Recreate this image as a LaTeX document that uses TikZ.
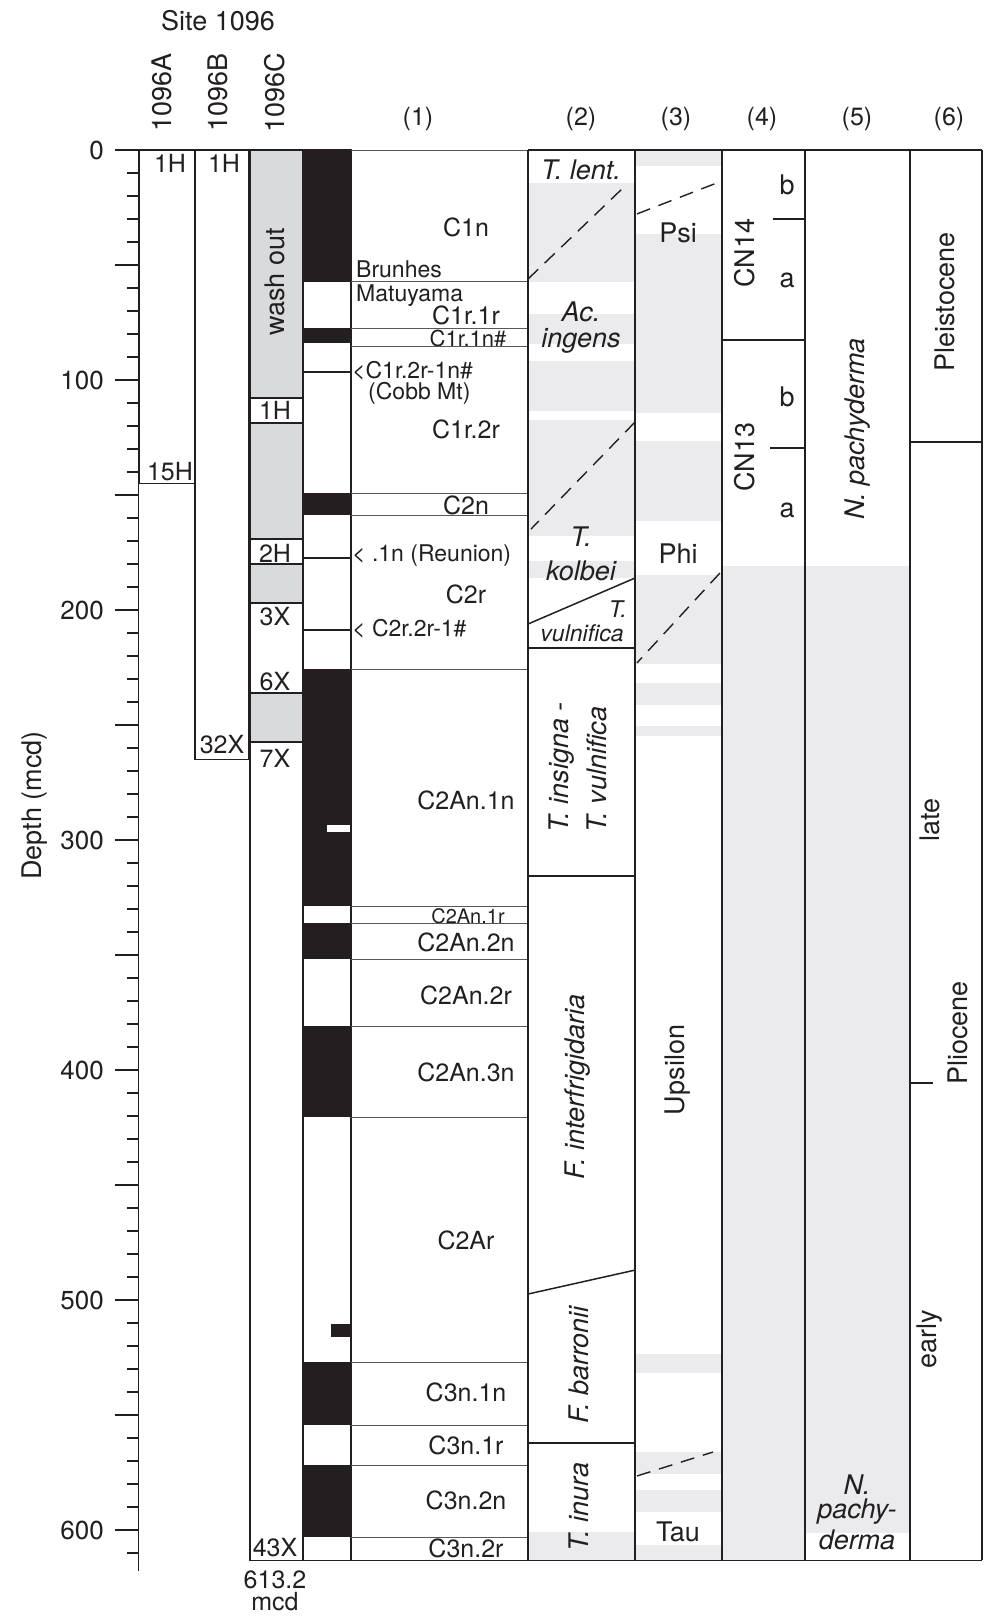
\documentclass[tikz,border=0pt]{standalone}
\usepackage{fontspec}
\setmainfont{TeX Gyre Heros}
\usetikzlibrary{positioning}
\definecolor{ink}{HTML}{231F20}
\definecolor{wash}{HTML}{D9DADB}
\definecolor{band}{HTML}{EBEBED}

\begin{document}
\begin{tikzpicture}[x=1pt,y=-2.3pt,font=\fontsize{25}{27}\selectfont,
  every node/.style={text=ink,inner sep=0pt},
  edge/.style={line width=1.5pt,draw=ink},
  thin/.style={line width=0.8pt,draw=ink!75},
  gap/.style={line width=1.4pt,draw=ink,dash pattern=on 14pt off 9pt},
  small/.style={font=\fontsize{20}{21}\selectfont},
  mid/.style={font=\fontsize{23}{25}\selectfont},
  large/.style={font=\fontsize{27}{29}\selectfont},
  taxon/.style={font=\fontsize{27}{29}\selectfont\itshape},
  minor/.style={font=\fontsize{23}{24}\selectfont\itshape}]
\useasboundingbox (0,-65.22) rectangle (984,639.13);

% depth axis
\draw[edge] (138.5,0) -- (138.5,618);
\foreach \d in {10,20,...,610} \draw[edge] (127,\d) -- (138.5,\d);
\foreach \d in {0,50,...,600} \draw[edge] (115,\d) -- (138.5,\d);
\foreach \d in {0,100,...,600} \node[anchor=east,font=\fontsize{26}{28}\selectfont] (tick\d) at (104,\d) {\d};
\node[rotate=90,large] (depth) at (35,285) {Depth (mcd)};

% holes
\node[large] (site) at (218,-56.1) {Site 1096};
\node[rotate=90,large] (holeA) at (162,-24.8) {1096A};
\node[rotate=90,large] (holeB) at (218,-24.8) {1096B};
\node[rotate=90,large] (holeC) at (275,-24.8) {1096C};
\foreach \a/\b in {0/107.8,118.7/169.1,180/197,236/257.4} \fill[wash] (250,\a) rectangle (303,\b);
\foreach \d in {107.8,118.7,169.1,180,197,236,257.4} \draw[edge] (250,\d) -- (303,\d);
\draw[edge] (139.5,0) rectangle (195,145);
\draw[edge] (195,0) rectangle (249,265);
\draw[edge] (250,0) rectangle (303,613.2);
\node (a1) at (170,5.7) {1H};
\node (a15) at (170,140) {15H};
\node (b1) at (224,5.7) {1H};
\node (b32) at (222,258.7) {32X};
\node[rotate=90,large] (wash) at (275,57.4) {wash out};
\node (c1) at (275,113.4) {1H};
\node (c2) at (275,175.2) {2H};
\node (c3) at (275,203) {3X};
\node (c6) at (275,231.3) {6X};
\node (c7) at (275,264.3) {7X};
\node (c43) at (275,607.8) {43X};
\node (cbase) at (275,621.7) {613.2};
\node[below=3pt of cbase] (cunit) {mcd};

% polarity
\foreach \a/\b in {0/57.3,77.2/83.9,149.1/158.7,225.7/328.7,336.1/351.7,380.9/420.4,527/554.3,571.7/603}
  \fill[ink] (303,\a) rectangle (351,\b);
\fill[white] (327,293.5) rectangle (350,296.5);
\fill[ink] (331,510.4) rectangle (351,516.1);
\draw[ink,line width=1.2pt] (303,96.5) -- (351,96.5) (303,177.4) -- (351,177.4);
\draw[ink,line width=2.2pt] (303,208.7) -- (351,208.7);
\draw[edge] (303,0) rectangle (351,613.2);

% (1) chrons
\node (h1) at (418,-13.5) {(1)};
\node (c1n) at (466,33.5) {C1n};
\node[anchor=west,mid] (brunhes) at (356,51.7) {Brunhes};
\node[anchor=west,mid] (matuyama) at (356,63.5) {Matuyama};
\node (c1r1r) at (466,71.7) {C1r.1r};
\node[font=\fontsize{22}{23}\selectfont] (c1r1n) at (468,81.9) {C1r.1n\#};
\node[anchor=west,mid] (cobb) at (352,96.1) {<C1r.2r-1n\#};
\node[anchor=west,mid] (cobbmt) at (368,106) {(Cobb Mt)};
\node (c1r2r) at (466,121.3) {C1r.2r};
\node (c2n) at (466,154.3) {C2n};
\node[anchor=west,mid] (reunion) at (352,176.5) {< .1n (Reunion)};
\node (c2r) at (466,193) {C2r};
\node[anchor=west,mid] (c2r2r) at (352,208.3) {< C2r.2r-1\#};
\node (c2an1n) at (466,282.6) {C2An.1n};
\node[small] (c2an1r) at (468,333.2) {C2An.1r};
\node (c2an2n) at (466,344.3) {C2An.2n};
\node (c2an2r) at (466,367.4) {C2An.2r};
\node (c2an3n) at (466,400.9) {C2An.3n};
\node (c2ar) at (466,473.9) {C2Ar};
\node (c3n1n) at (466,540) {C3n.1n};
\node (c3n1r) at (466,563) {C3n.1r};
\node (c3n2n) at (466,587) {C3n.2n};
\node (c3n2r) at (466,607.8) {C3n.2r};
\foreach \d in {0,57.3,77.4,85.2,149.1,158.7,225.7,328.7,336.1,351.7,380.9,420.4,527,554.3,571.7,603,613.2}
  \draw[thin] (351,\d) -- (528,\d);

% (2)-(6) shading
\foreach \a/\b in {14.3/57.4,71.3/84.3,91.7/113.5,117.4/167.8,178.7/186.1,600.9/613.2}
  \fill[band] (528,\a) rectangle (635,\b);
\foreach \a/\b in {0/7,36.5/114.3,126.5/161.3,184.8/223.5,231.7/241.3,250.4/254.8,523.5/531.7,566.1/575.7,582.6/592.2,606.5/613.2}
  \fill[band] (635,\a) rectangle (722,\b);
\fill[band] (722,180.9) rectangle (805,613.2);
\fill[band] (805,180.9) rectangle (910,601.3);

% (2) diatoms
\draw[gap] (528,56.1) -- (623,16.5);
\draw[gap] (635,118.3) -- (531,164.8);
\draw[edge] (528,206.1) -- (635,186.1);
\draw[edge] (528,216.5) -- (635,216.5);
\draw[edge] (528,315.7) -- (635,315.7);
\draw[edge] (528,497.4) -- (635,487);
\draw[edge] (528,562.2) -- (635,562.2);
\node (h2) at (581,-13.5) {(2)};
\node[taxon] (tlent) at (581,8.7) {T. lent.};
\node[taxon,align=center,font=\fontsize{27}{26}\selectfont\itshape] (ingens) at (581,77.4) {Ac.\\ingens};
\node[taxon] (tk) at (581,168.3) {T.};
\node[taxon] (kolbei) at (581,183) {kolbei};
\node[minor,anchor=east] (tv) at (627,199.6) {T.};
\node[minor] (vulnifica) at (582,210) {vulnifica};
\node[taxon,rotate=90,anchor=west] (insigna) at (562,297) {T. insigna -};
\node[taxon,rotate=90,anchor=west] (tvul) at (597,297) {T. vulnifica};
\node[taxon,rotate=90] (interfrig) at (578,407.4) {F. interfrigidaria};
\node[taxon,rotate=90] (barronii) at (579,528.3) {F. barronii};
\node[taxon,rotate=90] (inura) at (579,590) {T. inura};

% (3) radiolarians
\draw[gap] (637,27.8) -- (717,14.3);
\draw[gap] (720,183.9) -- (637,223);
\draw[gap] (637,576.5) -- (713,566.1);
\node (h3) at (676,-13.5) {(3)};
\node[large] (psi) at (678,36.1) {Psi};
\node[large] (phi) at (678,175.7) {Phi};
\node[large,rotate=90] (upsilon) at (678,400) {Upsilon};
\node[large] (tau) at (678,600.9) {Tau};

% (4) nannofossils
\draw[edge] (722,82.6) -- (805,82.6);
\draw[edge] (773,30) -- (805,30);
\draw[edge] (770,129.6) -- (805,129.6);
\node (h4) at (762,-13.5) {(4)};
\node[large,rotate=90] (cn14) at (745,44.8) {CN14};
\node[large] (cn14b) at (787,15.2) {b};
\node[large] (cn14a) at (787,56.5) {a};
\node[large,rotate=90] (cn13) at (745,133.5) {CN13};
\node[large] (cn13b) at (787,107.4) {b};
\node[large] (cn13a) at (787,156.5) {a};

% (5) foraminifers
\node (h5) at (857,-13.5) {(5)};
\node[taxon,rotate=90] (pachy) at (858,121.3) {N. pachyderma};
\node[taxon] (pn) at (857,580.4) {N.};
\node[taxon] (pp) at (857,592.2) {pachy-};
\node[taxon] (pd) at (857,604.3) {derma};

% (6) epochs
\draw[edge] (910,127) -- (982,127);
\draw[edge] (910,405.7) -- (933,405.7);
\node (h6) at (949,-13.5) {(6)};
\node[large,rotate=90] (pleist) at (945,66.1) {Pleistocene};
\node[large,rotate=90] (late) at (930,291.3) {late};
\node[large,rotate=90] (plio) at (958,383.9) {Pliocene};
\node[large,rotate=90] (early) at (930,517) {early};

% column frames
\foreach \x in {528,635,722,805,910,982} \draw[edge] (\x,0) -- (\x,613.2);
\draw[edge] (528,0) -- (982,0) (250,613.2) -- (982,613.2);
\end{tikzpicture}
\end{document}
